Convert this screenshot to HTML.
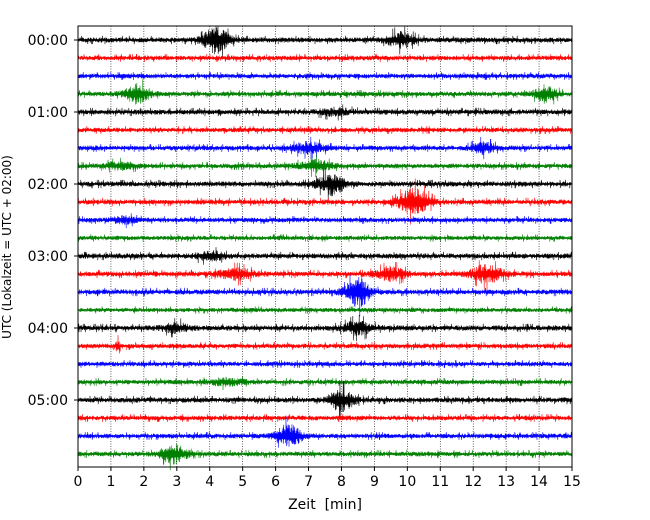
<!DOCTYPE html>
<html><head><meta charset="utf-8">
<style>
html,body{margin:0;padding:0;background:#fff;}
svg{display:block;font-family:"DejaVu Sans","Liberation Sans",sans-serif;}
</style></head>
<body>
<svg id="chart" width="650" height="520" viewBox="0 0 650 520" xmlns="http://www.w3.org/2000/svg">
  <g id="grid"></g>
  <g id="traces"></g>
  <rect x="78" y="26" width="494" height="441" fill="none" stroke="#000" stroke-width="1"/>
  <g id="xticks"></g>
  <g id="yticks"></g>
  <text x="325" y="509" font-size="14" text-anchor="middle" xml:space="preserve">Zeit  [min]</text>
  <text transform="translate(11,247) rotate(-90)" font-size="12" text-anchor="middle">UTC (Lokalzeit = UTC + 02:00)</text>
</svg>
<script>
// Data
const xTicks = [0,1,2,3,4,5,6,7,8,9,10,11,12,13,14,15];
const yTickLabels = ["00:00","01:00","02:00","03:00","04:00","05:00"];
const yTickTraceIndex = [0,4,8,12,16,20];
const traceColors = ["#000000","#ff0000","#0000ff","#008000"];
const traceCount = 24;
// events per trace: [time_min, amplitude_px, halfwidth_min]
const traceEvents = [
  [[4.2,13,0.45],[9.8,7,0.5]],
  [],
  [],
  [[1.8,9,0.45],[14.2,8,0.4]],
  [[7.8,3,0.6]],
  [],
  [[7.0,5,0.6],[12.3,5,0.45]],
  [[1.3,3,0.6],[7.2,5,0.6]],
  [[7.7,10,0.5]],
  [[10.2,13,0.55]],
  [[1.4,3,0.4]],
  [],
  [[4.0,4,0.5]],
  [[4.8,5,0.6],[9.5,6,0.55],[12.4,8,0.6]],
  [[8.5,14,0.45]],
  [],
  [[3.0,4,0.5],[8.5,6,0.55]],
  [[1.2,5,0.08]],
  [],
  [[4.5,3,0.6]],
  [[8.0,10,0.45]],
  [],
  [[6.4,11,0.45]],
  [[2.9,9,0.45]]
];
const baseAmp = [2.8,2.6,2.6,2.6,2.8,2.6,2.6,2.6,2.8,2.8,2.6,2.4,2.8,2.8,2.8,2.4,2.8,2.6,2.6,2.6,2.8,2.6,2.6,2.6];

const NS="http://www.w3.org/2000/svg";
const X0=78,X1=572,Y0=26,Y1=467;
const xs=t=>X0+(X1-X0)*t/15;
const ys=i=>40+i*18;

const grid=document.getElementById('grid');
xTicks.forEach(t=>{
  if(t===0||t===15) return;
  const l=document.createElementNS(NS,'line');
  
  
  l.setAttribute('x1',xs(t));l.setAttribute('x2',xs(t));
  l.setAttribute('y1',Y0);l.setAttribute('y2',Y1);
  l.setAttribute('stroke','#000');l.setAttribute('stroke-width','0.6');
  l.setAttribute('stroke-dasharray','1,1.5');
  grid.appendChild(l);
});
const xg=document.getElementById('xticks');
xTicks.forEach(t=>{
  const l=document.createElementNS(NS,'line');
  
  
  l.setAttribute('x1',xs(t));l.setAttribute('x2',xs(t));
  l.setAttribute('y1',Y1);l.setAttribute('y2',Y1+4);
  l.setAttribute('stroke','#000');
  xg.appendChild(l);
  const tx=document.createElementNS(NS,'text');
  
  
  tx.setAttribute('x',xs(t));tx.setAttribute('y',Y1+19);
  tx.setAttribute('font-size','14');tx.setAttribute('text-anchor','middle');
  tx.textContent=t;
  xg.appendChild(tx);
});
const yg=document.getElementById('yticks');
yTickLabels.forEach((lab,k)=>{
  const y=ys(yTickTraceIndex[k]);
  const l=document.createElementNS(NS,'line');
  
  
  l.setAttribute('x1',X0-4);l.setAttribute('x2',X0);
  l.setAttribute('y1',y);l.setAttribute('y2',y);
  l.setAttribute('stroke','#000');
  yg.appendChild(l);
  const tx=document.createElementNS(NS,'text');
  
  
  tx.setAttribute('x',X0-10);tx.setAttribute('y',y+5);
  tx.setAttribute('font-size','14');tx.setAttribute('text-anchor','end');
  tx.textContent=lab;
  yg.appendChild(tx);
});
// deterministic texture for noise rendering
function h(i,k){const s=Math.sin(i*12.9898+k*78.233)*43758.5453;return (s-Math.floor(s))*2-1;}
const tg=document.getElementById('traces');
for(let k=0;k<traceCount;k++){
  const y0=ys(k);
  let d='';
  const step=0.2;
  let n=0;
  for(let x=X0;x<=X1;x+=step,n++){
    const t=(x-X0)/(X1-X0)*15;
    let env=baseAmp[k];
    traceEvents[k].forEach(e=>{
      const u=(t-e[0])/e[2];
      env+=e[1]*Math.exp(-u*u*1.5);
    });
    const a=Math.abs(h(n,k+1));
    const r=0.25+0.75*a*a+(a>0.97?0.5:0);
    const v=r*env*(n%2?1:-1);
    d+=(n?'L':'M')+x.toFixed(1)+','+(y0+v).toFixed(2);
  }
  const p=document.createElementNS(NS,'path');
  
  
  p.setAttribute('d',d);
  p.setAttribute('fill','none');
  p.setAttribute('stroke',traceColors[k%4]);
  p.setAttribute('stroke-width','0.6');
  tg.appendChild(p);
}
</script>
</body></html>
